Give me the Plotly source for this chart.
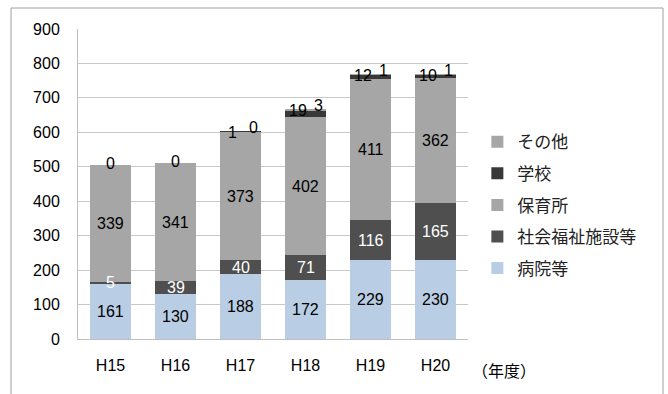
import plotly.graph_objects as go

categories = ["H15", "H16", "H17", "H18", "H19", "H20"]
hospital = [161, 130, 188, 172, 229, 230]          # 病院等
welfare = [5, 39, 40, 71, 116, 165]                # 社会福祉施設等
nursery = [339, 341, 373, 402, 411, 362]           # 保育所
school = [None, None, 1, 19, 12, 10]               # 学校
other = [0, 0, 0, 3, 1, 1]                         # その他
y_ticks = [0, 100, 200, 300, 400, 500, 600, 700, 800, 900]

NUM_FONT = "Liberation Sans, Arial, sans-serif"
JP_FONT = "Noto Sans CJK JP, sans-serif"

series = [
    ("病院等", hospital, "#B9CDE5", "black"),
    ("社会福祉施設等", welfare, "#4F4F4F", "white"),
    ("保育所", nursery, "#A6A6A6", "black"),
    ("学校", school, "#383838", "black"),
    ("その他", other, "#A6A6A6", "black"),
]

fig = go.Figure()
for i, (name, vals, color, _) in enumerate(series):
    fig.add_trace(go.Bar(
        x=categories, y=[v if v is not None else 0 for v in vals], name=name,
        marker=dict(color=color, line=dict(width=0)),
        legendgroup=name, legendrank=len(series) - i, width=0.63,
    ))

annotations = []
base = [0] * len(categories)
for name, vals, color, tcol in series[:3]:
    for j, v in enumerate(vals):
        annotations.append(dict(
            x=categories[j], y=base[j] + v / 2, text=str(v), showarrow=False,
            font=dict(family=NUM_FONT, size=16, color=tcol), xref="x", yref="y",
        ))
        base[j] += v
# small top segments
for j in range(len(categories)):
    top = base[j] + (school[j] or 0) + other[j]
    if school[j] is not None:
        annotations.append(dict(
            x=categories[j], y=top, text=str(school[j]), showarrow=False,
            xshift=-8, yshift=-1,
            font=dict(family=NUM_FONT, size=16, color="black"), xref="x", yref="y",
        ))
        annotations.append(dict(
            x=categories[j], y=top, text=str(other[j]), showarrow=False,
            xshift=13, yshift=4,
            font=dict(family=NUM_FONT, size=16, color="black"), xref="x", yref="y",
        ))
    else:
        annotations.append(dict(
            x=categories[j], y=top, text=str(other[j]), showarrow=False,
            yshift=2,
            font=dict(family=NUM_FONT, size=16, color="black"), xref="x", yref="y",
        ))

annotations.append(dict(
    x=(470 - 78) / 390, y=(339 - 370) / 310, xref="paper", yref="paper",
    xanchor="left", yanchor="middle", text="（年度）", showarrow=False,
    font=dict(family=JP_FONT, size=16, color="black"),
))

fig.update_layout(
    width=668, height=394,
    margin=dict(l=78, r=200, t=29, b=55),
    paper_bgcolor="white", plot_bgcolor="white",
    barmode="stack", bargap=0.37,
    showlegend=True,
    legend=dict(
        x=1.024, y=0.693, xanchor="left", yanchor="top",
        traceorder="grouped", tracegroupgap=6.5,
        font=dict(family=JP_FONT, size=17, color="#222222"),
        itemwidth=30, bgcolor="rgba(0,0,0,0)",
    ),
    xaxis=dict(
        showgrid=False, showline=True, linecolor="#BFBFBF", linewidth=1,
        tickfont=dict(family=NUM_FONT, size=16, color="black"),
        ticks="", ticklabelstandoff=12,
    ),
    yaxis=dict(
        range=[0, 900], tickvals=y_ticks, showgrid=True, gridcolor="#C8C8C8",
        gridwidth=1, showline=True, linecolor="#BFBFBF", linewidth=1,
        tickfont=dict(family=NUM_FONT, size=16, color="black"),
        ticks="", ticklabelstandoff=14, zeroline=False,
    ),
    annotations=annotations,
    shapes=[dict(
        type="rect", xref="paper", yref="paper",
        x0=(11 - 78) / 390, x1=(663 - 78) / 390,
        y0=(339 - 420) / 310, y1=1 + (29 - 8) / 310,
        line=dict(color="#A0A0A0", width=1), fillcolor="rgba(0,0,0,0)", layer="below",
    )],
)

fig.write_html("out.html")
